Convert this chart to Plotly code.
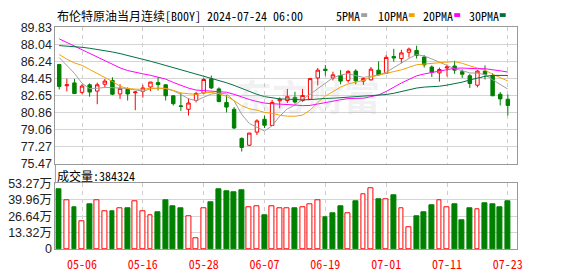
import plotly.graph_objects as go

# ---------------- data ----------------
dates = ["05-01", "05-02", "05-03", "05-06", "05-07", "05-08", "05-09", "05-10",
         "05-13", "05-14", "05-15", "05-16", "05-17", "05-20", "05-21", "05-22",
         "05-23", "05-24", "05-27", "05-28", "05-29", "05-30", "05-31",
         "06-03", "06-04", "06-05", "06-06", "06-07", "06-10", "06-11", "06-12",
         "06-13", "06-14", "06-17", "06-18", "06-19", "06-20", "06-21", "06-24",
         "06-25", "06-26", "06-27", "06-28",
         "07-01", "07-02", "07-03", "07-04", "07-05", "07-08", "07-09", "07-10",
         "07-11", "07-12", "07-15", "07-16", "07-17", "07-18", "07-19", "07-22",
         "07-23"]

opens = [85.93, 83.70, 84.00, 83.01, 83.80, 83.14, 83.86, 84.26, 82.84, 83.34,
         82.97, 83.11, 83.57, 84.03, 83.80, 82.65, 81.59, 81.23, 82.15, 82.94,
         84.42, 83.37, 81.95, 81.23, 78.17, 77.45, 78.83, 80.18, 79.52, 82.12,
         82.15, 82.48, 82.15, 82.28, 84.52, 85.44, 84.52, 84.78, 84.26, 85.24,
         84.19, 84.32, 85.34, 85.01, 86.78, 86.56, 87.22, 87.41, 86.72, 85.67,
         85.05, 85.57, 85.77, 85.18, 84.75, 83.76, 85.24, 84.78, 82.81, 82.28]
highs = [86.00, 84.45, 84.42, 83.86, 83.96, 84.03, 84.42, 84.59, 83.86, 83.53,
         83.14, 83.80, 84.09, 84.62, 83.86, 82.71, 82.97, 82.38, 83.04, 84.52,
         84.78, 83.53, 82.71, 81.46, 78.27, 78.73, 80.18, 80.57, 82.22, 82.48,
         83.37, 83.07, 83.37, 84.52, 85.57, 85.87, 85.18, 85.34, 85.34, 85.44,
         84.59, 85.67, 86.26, 86.92, 87.58, 87.48, 87.71, 87.91, 86.92, 85.84,
         85.61, 85.93, 86.33, 85.44, 84.95, 85.34, 85.84, 85.01, 83.04, 82.78]
lows = [83.30, 83.11, 82.88, 82.81, 82.55, 81.76, 83.53, 82.71, 82.32, 82.15,
        81.13, 82.45, 83.14, 83.20, 82.15, 81.63, 81.07, 80.57, 81.95, 82.88,
        83.34, 81.95, 80.90, 79.16, 76.79, 77.38, 78.53, 79.26, 79.49, 81.33,
        81.89, 81.82, 82.02, 82.22, 83.73, 84.75, 84.26, 83.86, 84.03, 83.86,
        83.80, 84.26, 84.78, 84.95, 86.23, 86.07, 86.66, 86.56, 85.61, 84.62,
        84.13, 84.68, 84.95, 84.52, 83.47, 83.53, 84.36, 82.61, 81.63, 80.57]
closes = [83.63, 83.80, 82.88, 83.67, 83.04, 83.80, 84.19, 82.81, 83.43, 82.84,
          83.04, 83.47, 84.09, 83.83, 82.65, 81.82, 81.53, 81.89, 82.88, 84.36,
          83.47, 82.05, 81.46, 79.26, 77.22, 78.73, 80.01, 79.55, 81.95, 82.28,
          82.55, 81.99, 82.68, 84.45, 85.34, 85.31, 84.85, 84.19, 85.21, 84.22,
          84.45, 85.44, 84.85, 86.68, 86.62, 87.15, 87.55, 86.89, 85.90, 85.11,
          85.41, 85.67, 85.34, 84.91, 83.93, 85.24, 84.91, 82.65, 82.32, 81.63]

ma5 = [86.66, 85.84, 85.01, 83.95, 83.40, 83.44, 83.52, 83.50, 83.45, 83.41,
       83.26, 83.12, 83.37, 83.45, 83.42, 83.17, 82.78, 82.34, 82.15, 82.50,
       82.83, 82.93, 82.84, 82.12, 80.69, 79.74, 79.34, 78.95, 79.49, 80.50,
       81.27, 81.66, 82.29, 82.79, 83.40, 83.95, 84.53, 84.83, 84.98, 84.76,
       84.58, 84.70, 84.83, 85.12, 85.61, 86.15, 86.57, 86.98, 86.83, 86.52,
       86.17, 85.80, 85.49, 85.29, 85.05, 85.02, 84.87, 84.33, 83.81, 83.35]
ma10 = [86.99, 86.49, 86.10, 85.84, 85.41, 85.00, 84.60, 84.15, 83.65, 83.41,
        83.35, 83.32, 83.44, 83.45, 83.42, 83.22, 82.95, 82.86, 82.80, 82.96,
        83.00, 82.86, 82.59, 82.14, 81.60, 81.29, 81.14, 80.90, 80.81, 80.60,
        80.51, 80.50, 80.62, 81.14, 81.95, 82.61, 83.10, 83.56, 83.89, 84.08,
        84.27, 84.62, 84.83, 85.05, 85.19, 85.37, 85.64, 85.91, 85.98, 86.07,
        86.16, 86.19, 86.24, 86.06, 85.79, 85.60, 85.34, 84.91, 84.55, 84.20]
ma20 = [88.63, 88.25, 87.85, 87.45, 87.08, 86.72, 86.30, 85.92, 85.58, 85.30,
        85.10, 84.95, 84.80, 84.62, 84.40, 84.05, 83.72, 83.45, 83.25, 83.19,
        83.18, 83.09, 83.02, 82.80, 82.51, 82.26, 82.05, 81.88, 81.81, 81.78,
        81.76, 81.68, 81.61, 81.64, 81.78, 81.95, 82.12, 82.23, 82.35, 82.34,
        82.39, 82.56, 82.73, 83.10, 83.57, 83.99, 84.37, 84.74, 84.94, 85.08,
        85.22, 85.41, 85.54, 85.56, 85.49, 85.49, 85.49, 85.41, 85.27, 85.14]
ma30 = [87.92, 87.88, 87.82, 87.74, 87.64, 87.53, 87.40, 87.25, 87.08, 86.90,
        86.70, 86.50, 86.28, 86.06, 85.84, 85.62, 85.40, 85.18, 84.96, 84.74,
        84.52, 84.28, 84.02, 83.74, 83.42, 83.10, 82.80, 82.56, 82.42, 82.32,
        82.29, 82.23, 82.22, 82.24, 82.32, 82.37, 82.39, 82.44, 82.50, 82.54,
        82.59, 82.66, 82.68, 82.78, 82.91, 83.09, 83.29, 83.46, 83.56, 83.58,
        83.65, 83.77, 83.90, 84.08, 84.31, 84.53, 84.69, 84.79, 84.80, 84.78]

volumes = [486000, 394000, 340000, 224000, 360000, 394000, 309000, 309000, 329000, 332000,
           386000, 309000, 275000, 301000, 394000, 347000, 327000, 268000, 90000, 329000,
           378000, 486000, 466000, 463000, 479000, 337000, 345000, 270000, 345000, 329000,
           329000, 332000, 337000, 360000, 399000, 255000, 293000, 347000, 291000, 386000,
           445000, 492000, 401000, 401000, 432000, 329000, 178000, 262000, 301000, 355000,
           399000, 337000, 363000, 232000, 332000, 322000, 371000, 363000, 340000, 384324]

tick_labels = ["05-06", "05-16", "05-28", "06-07", "06-19", "07-01", "07-11", "07-23"]
price_ticks = [75.47, 77.27, 79.06, 80.86, 82.65, 84.45, 86.24, 88.04, 89.83]
vol_ticks_wan = [0, 13.32, 26.64, 39.96, 53.27]

title_text = "布伦特原油当月连续[B00Y] 2024-07-24 06:00"
ma_names = ["5PMA", "10PMA", "20PMA", "30PMA"]

# ---------------- style ----------------
W, H = 578, 276
RED = "#ff0000"
GREEN = "#008000"
MA_COLORS = ["#a0a0a0", "#f5a200", "#ff00ff", "#007040"]
MONO = "Noto Sans Mono CJK SC, Noto Sans CJK SC, monospace"
NUM = "Arial, Liberation Sans, Noto Sans CJK SC, sans-serif"
BORDER = "#999999"
GRID = "#d4d4d4"


def fx(px):
    return px / W


def fy(py):
    return 1 - py / H


PL, PR = 56, 522
MAIN_T, MAIN_B = 21.5, 165.5
VOL_T, VOL_B = 185.7, 255

fig = go.Figure()

fig.add_trace(go.Candlestick(
    x=dates, open=opens, high=highs, low=lows, close=closes,
    increasing=dict(line=dict(color=RED, width=1), fillcolor="white"),
    decreasing=dict(line=dict(color=GREEN, width=1), fillcolor=GREEN),
    whiskerwidth=0, showlegend=False, hoverinfo="skip",
    xaxis="x", yaxis="y"))

for ma, color in zip([ma5, ma10, ma20, ma30], MA_COLORS):
    fig.add_trace(go.Scatter(x=dates, y=ma, mode="lines",
                             line=dict(color=color, width=1),
                             showlegend=False, hoverinfo="skip",
                             xaxis="x", yaxis="y"))

vol_up = [False] + [closes[i] > closes[i - 1] for i in range(1, len(closes))]
fig.add_trace(go.Bar(
    x=dates, y=volumes, width=0.64,
    marker=dict(color=["white" if u else GREEN for u in vol_up],
                line=dict(color=[RED if u else GREEN for u in vol_up], width=1)),
    showlegend=False, hoverinfo="skip", xaxis="x2", yaxis="y2"))

xrange = [-0.5, len(dates) + 0.15]
common_x = dict(domain=[fx(PL), fx(PR)], type="category", range=xrange,
                tickmode="array", tickvals=tick_labels, ticktext=tick_labels,
                showgrid=True, gridcolor="#cccccc", griddash="4px,4px", gridwidth=1,
                showline=True, linecolor=BORDER, linewidth=1, mirror=True,
                ticks="", zeroline=False, fixedrange=True)

fig.update_layout(
    width=W, height=H, margin=dict(l=0, r=0, t=0, b=0),
    paper_bgcolor="white", plot_bgcolor="white",
    showlegend=False, hovermode=False, boxgap=0.35, bargap=0,
    xaxis=dict(common_x, anchor="y", showticklabels=False,
               rangeslider=dict(visible=False)),
    yaxis=dict(domain=[fy(MAIN_B), fy(MAIN_T)], range=[price_ticks[0], price_ticks[-1]],
               tickmode="array", tickvals=price_ticks,
               ticktext=[f"{v:.2f}" for v in price_ticks],
               tickfont=dict(family=NUM, size=12.5, color="#222222"),
               showgrid=True, gridcolor=GRID, gridwidth=1,
               showline=True, linecolor=BORDER, mirror=True, ticks="",
               zeroline=False, anchor="x", fixedrange=True),
    xaxis2=dict(common_x, anchor="y2", showticklabels=True, ticklabelstandoff=5,
                tickfont=dict(family=MONO, size=12, color=RED)),
    yaxis2=dict(domain=[fy(VOL_B), fy(VOL_T)], range=[0, vol_ticks_wan[-1] * 10000],
                tickmode="array", tickvals=[v * 10000 for v in vol_ticks_wan],
                ticktext=[("0" if v == 0 else f"{v:.2f}万") for v in vol_ticks_wan],
                tickfont=dict(family=NUM, size=12.5, color="#222222"),
                showgrid=True, gridcolor=GRID, gridwidth=1,
                showline=True, linecolor=BORDER, mirror=True, ticks="",
                zeroline=False, anchor="x2", fixedrange=True),
)

annotations = [
    dict(x=fx(56), y=fy(8.5), xref="paper", yref="paper", xanchor="left", yanchor="middle",
         text=title_text, showarrow=False, font=dict(family=MONO, size=12, color="black")),
    dict(x=fx(56), y=fy(177), xref="paper", yref="paper", xanchor="left", yanchor="middle",
         text=f"成交量:{volumes[-1]}", showarrow=False,
         font=dict(family=MONO, size=12, color="black")),
    dict(x=fx(311), y=fy(93), xref="paper", yref="paper", xanchor="center", yanchor="middle",
         text="<b>东方财富</b>", showarrow=False,
         font=dict(family="Noto Sans CJK SC", size=36, color="rgba(170,170,185,0.18)")),
]
shapes = [
    dict(type="line", xref="paper", yref="paper", x0=fx(PL), x1=fx(PL),
         y0=fy(MAIN_B), y1=fy(VOL_T), line=dict(color=BORDER, width=1)),
]
leg_text_x = [338, 380, 425, 472]
leg_sq_x = [365, 413, 459, 505]
for name, color, tx, sx in zip(ma_names, MA_COLORS, leg_text_x, leg_sq_x):
    annotations.append(dict(x=fx(tx), y=fy(8.5), xref="paper", yref="paper",
                            xanchor="left", yanchor="middle", text=name, showarrow=False,
                            font=dict(family=MONO, size=12, color="black")))
    shapes.append(dict(type="rect", xref="paper", yref="paper",
                       x0=fx(sx), x1=fx(sx + 6), y0=fy(10.5), y1=fy(6.5),
                       fillcolor=color, line=dict(width=0)))

fig.update_layout(annotations=annotations, shapes=shapes)

fig.write_html("out.html", config={"displayModeBar": False})
